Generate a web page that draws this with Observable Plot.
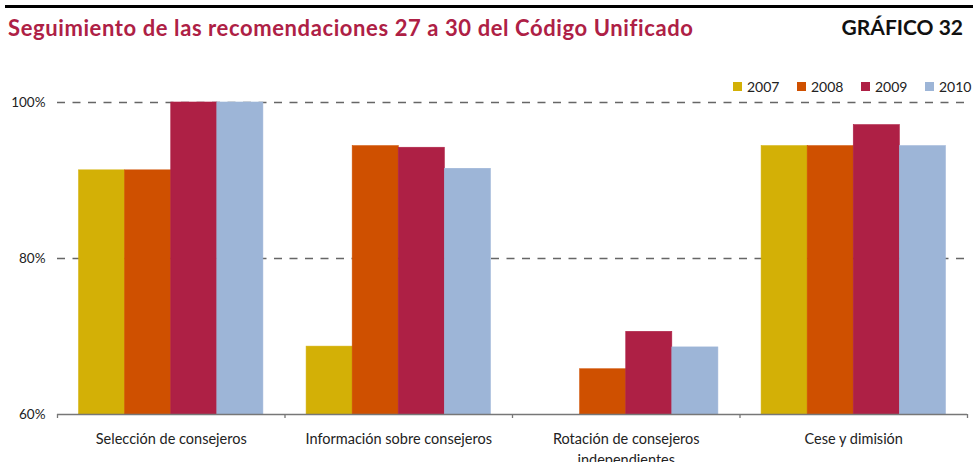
<!DOCTYPE html>
<html>
<head>
<meta charset="utf-8">
<script src="https://cdn.jsdelivr.net/npm/d3@7"></script>
<script src="https://cdn.jsdelivr.net/npm/@observablehq/plot@0.6"></script>
<style>
  html, body { margin: 0; padding: 0; background: #fff; }
  #wrap { position: relative; width: 973px; height: 462px; font-family: Lato, "Noto Sans", sans-serif; overflow: hidden; }
  #header { position: relative; width: 973px; height: 95px; }
  #rule { position: absolute; left: 5px; right: 0; top: 5px; height: 3px; background: #000; }
  #title { position: absolute; left: 8px; top: 14px; font-size: 22px; letter-spacing: 0.6px; font-weight: 700; color: #AE2045; white-space: nowrap; }
  #num { position: absolute; right: 10px; top: 14px; font-size: 21px; font-weight: 700; color: #111; white-space: nowrap; }
  #legend { position: absolute; left: 733px; top: 78px; display: flex; font-size: 14px; color: #222; }
  .item { display: flex; align-items: center; width: 64px; }
  .sw { width: 9px; height: 9px; margin-right: 5px; }
  svg { display: block; }
</style>
</head>
<body>
<div id="wrap">
  <div id="header">
    <div id="rule"></div>
    <div id="title">Seguimiento de las recomendaciones 27 a 30 del Código Unificado</div>
    <div id="num">GRÁFICO 32</div>
    <div id="legend"></div>
  </div>
  <div id="chart"></div>
</div>
<script>
const categories = ["Selección de consejeros", "Información sobre consejeros", "Rotación de consejeros\nindependientes", "Cese y dimisión"];
const years = ["2007", "2008", "2009", "2010"];
const v2007 = [91.3, 68.7, null, 94.4];
const v2008 = [91.3, 94.4, 65.8, 94.4];
const v2009 = [100, 94.2, 70.6, 97.1];
const v2010 = [100, 91.5, 68.6, 94.4];
const yTicks = [60, 80, 100];
const colors = ["#D3B006", "#CF5000", "#AE2045", "#9DB5D7"];

const series = [v2007, v2008, v2009, v2010];
const GROUP = 0.81;
const w = GROUP / years.length;
const off = (1 - GROUP) / 2;
const data = [];
categories.forEach((c, i) => {
  years.forEach((yr, j) => {
    const v = series[j][i];
    if (v != null) data.push({ci: i, yi: j, year: yr, value: v});
  });
});

const legend = document.getElementById("legend");
years.forEach((yr, j) => {
  const it = document.createElement("div");
  it.className = "item";
  it.innerHTML = `<div class="sw" style="background:${colors[j]}"></div><span>${yr}</span>`;
  legend.appendChild(it);
});

const plot = Plot.plot({
  width: 973,
  height: 367,
  marginTop: 7,
  marginBottom: 48,
  marginLeft: 57,
  marginRight: 6,
  style: {fontFamily: "Lato, 'Noto Sans', sans-serif", fontSize: "13.5px", color: "#222"},
  x: {domain: [0, categories.length]},
  y: {domain: [60, 100], label: null},
  color: {domain: years, range: colors},
  marks: [
    Plot.ruleY(yTicks.filter(d => d > 60), {stroke: "#666", strokeWidth: 1.3, strokeDasharray: "8,7.5", x1: 0, x2: categories.length}),
    Plot.rect(data, {
      x1: d => d.ci + off + d.yi * w,
      x2: d => d.ci + off + (d.yi + 1) * w,
      y1: () => 60,
      y2: d => d.value,
      fill: "year",
      stroke: "year",
      strokeWidth: 0.6
    }),
    Plot.ruleY([60], {stroke: "#777", strokeWidth: 1.6}),
    Plot.axisX({ticks: d3.range(categories.length + 1), tickFormat: () => "", tickSize: 4, stroke: "#777", strokeWidth: 1.3, label: null}),
    Plot.axisX({ticks: categories.map((c, i) => i + 0.5), tickFormat: t => categories[Math.floor(t)], tickSize: 0, tickPadding: 15, lineHeight: 1.45, fill: "#222", fontSize: 14.5, label: null}),
    Plot.axisY({ticks: yTicks, tickFormat: d => d + "%", tickSize: 0, tickPadding: 12, fill: "#222", label: null})
  ]
});
document.getElementById("chart").appendChild(plot);
</script>
</body>
</html>
